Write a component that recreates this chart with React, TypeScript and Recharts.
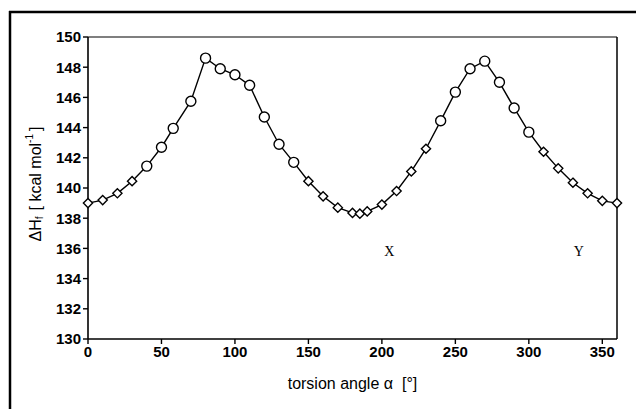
import React from 'react';
import { LineChart, Line, XAxis, YAxis, ReferenceLine, ReferenceDot, Label } from 'recharts';

const angles = [0, 10, 20, 30, 40, 50, 58, 70, 80, 90, 100, 110, 120, 130, 140, 150, 160, 170, 180, 185, 190, 200, 210, 220, 230, 240, 250, 260, 270, 280, 290, 300, 310, 320, 330, 340, 350, 360];
const enthalpy = [139.0, 139.2, 139.65, 140.45, 141.45, 142.7, 143.95, 145.75, 148.6, 147.9, 147.5, 146.8, 144.7, 142.9, 141.7, 140.45, 139.45, 138.7, 138.35, 138.3, 138.45, 138.9, 139.8, 141.1, 142.6, 144.45, 146.35, 147.9, 148.4, 147.0, 145.3, 143.7, 142.4, 141.3, 140.35, 139.65, 139.15, 139.0];
const markerType = ['d', 'd', 'd', 'd', 'c', 'c', 'c', 'c', 'c', 'c', 'c', 'c', 'c', 'c', 'c', 'd', 'd', 'd', 'd', 'd', 'd', 'd', 'd', 'd', 'd', 'c', 'c', 'c', 'c', 'c', 'c', 'c', 'd', 'd', 'd', 'd', 'd', 'd'];
const xTicks = [0, 50, 100, 150, 200, 250, 300, 350];
const yTicks = [130, 132, 134, 136, 138, 140, 142, 144, 146, 148, 150];
const annotations = [
  { text: 'X', angle: 205, value: 135.8 },
  { text: 'Y', angle: 334, value: 135.8 },
];

const data = angles.map((a, i) => ({ angle: a, dh: enthalpy[i], m: markerType[i] }));

const SANS = 'Arial, "Liberation Sans", Helvetica, sans-serif';
const SERIF = '"Times New Roman", "Liberation Serif", Times, serif';

const renderDot = (props: any) => {
  const { cx, cy, index, payload } = props;
  if (cx == null || cy == null) return <g key={`d${index}`} />;
  if (payload.m === 'c') {
    return <circle key={`d${index}`} cx={cx} cy={cy} r={5} fill="#fff" stroke="#000" strokeWidth={1.4} />;
  }
  const s = 4.6;
  return (
    <path
      key={`d${index}`}
      d={`M${cx},${cy - s}L${cx + s},${cy}L${cx},${cy + s}L${cx - s},${cy}Z`}
      fill="#fff"
      stroke="#000"
      strokeWidth={1.4}
    />
  );
};

const YTitle = (props: any) => {
  const vb = props.viewBox || { x: 28, y: 37, width: 60, height: 302 };
  const cx = vb.x + 7;
  const cy = vb.y + vb.height / 2 - 4;
  return (
    <text
      transform={`translate(${cx},${cy}) rotate(-90)`}
      textAnchor="middle"
      dominantBaseline="central"
      fontFamily={SANS}
      fontSize={16}
      fill="#000"
    >
      <tspan>ΔH</tspan>
      <tspan fontSize={10} dy={4}>f</tspan>
      <tspan dy={-4} dx={6}>[ kcal mol</tspan>
      <tspan fontSize={10} dy={-6}>-1</tspan>
      <tspan dy={6} dx={3}>]</tspan>
    </text>
  );
};

const XTitle = (props: any) => {
  const vb = props.viewBox || { x: 88, y: 339, width: 529, height: 70 };
  const cx = vb.x + vb.width / 2;
  const y = vb.y + 50;
  return (
    <text x={cx} y={y} textAnchor="middle" fontFamily={SANS} fontSize={16} fill="#000">
      <tspan>torsion angle α</tspan>
      <tspan dx={9}>[°]</tspan>
    </text>
  );
};

const AnnotationShape = (text: string) => (props: any) => (
  <text x={props.cx} y={props.cy} textAnchor="middle" dominantBaseline="central" fontFamily={SERIF} fontSize={14} fill="#000">
    {text}
  </text>
);

export default function App() {
  return (
    <div style={{ position: 'absolute', left: 0, top: 0, width: 636, height: 409, background: '#fff' }}>
      <LineChart width={636} height={409} data={data} margin={{ top: 37, right: 19, bottom: 0, left: 28 }}>
        <XAxis
          dataKey="angle"
          type="number"
          domain={[0, 360]}
          ticks={xTicks}
          interval={0}
          height={70}
          tickSize={5}
          tickMargin={2}
          axisLine={{ stroke: '#000', strokeWidth: 1.6 }}
          tickLine={{ stroke: '#000', strokeWidth: 1.4 }}
          tick={{ fill: '#000', fontSize: 15, fontWeight: 700, fontFamily: SANS }}
        >
          <Label content={XTitle} />
        </XAxis>
        <YAxis
          type="number"
          domain={[130, 150]}
          ticks={yTicks}
          interval={0}
          width={60}
          tickSize={5}
          tickMargin={2}
          axisLine={{ stroke: '#000', strokeWidth: 1.6 }}
          tickLine={{ stroke: '#000', strokeWidth: 1.4 }}
          tick={{ fill: '#000', fontSize: 15, fontWeight: 700, fontFamily: SANS }}
        >
          <Label content={YTitle} />
        </YAxis>
        <ReferenceLine y={150} stroke="#555" strokeWidth={1.5} />
        <ReferenceLine x={360} stroke="#000" strokeWidth={1.5} />
        <Line
          type="linear"
          dataKey="dh"
          stroke="#000"
          strokeWidth={1.4}
          dot={renderDot}
          activeDot={false}
          isAnimationActive={false}
        />
        {annotations.map((a) => (
          <ReferenceDot key={a.text} x={a.angle} y={a.value} r={0} shape={AnnotationShape(a.text)} />
        ))}
      </LineChart>
      <svg width={636} height={409} style={{ position: 'absolute', left: 0, top: 0, pointerEvents: 'none' }}>
        <line x1={9} y1={12} x2={636} y2={12} stroke="#000" strokeWidth={2.5} />
        <line x1={10} y1={11} x2={10} y2={409} stroke="#000" strokeWidth={2.5} />
      </svg>
    </div>
  );
}
